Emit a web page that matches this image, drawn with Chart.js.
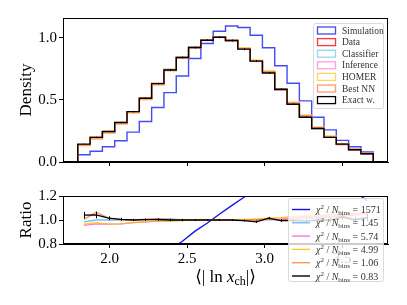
<!DOCTYPE html>
<html>
<head>
<meta charset="utf-8">
<script src="https://cdn.jsdelivr.net/npm/chart.js@4.4.0/dist/chart.umd.min.js"></script>
<style>
  body { margin: 0; background: #fff; }
  #wrap { position: relative; width: 407px; height: 305px; }
  #wrap canvas { position: absolute; left: 0; top: 0; }
</style>
</head>
<body>
<div id="wrap">
  <canvas id="hist" width="407" height="305"></canvas>
  <canvas id="ratio" width="407" height="305"></canvas>
</div>
<script>
// binning of the histograms
var binLo = 1.795, binHi = 3.70, nBins = 24;
var xTicks = [2.0, 2.5, 3.0, 3.5];
var densityTicks = [0.0, 0.5, 1.0];
var ratioTicks = [0.8, 1.0, 1.2];

// densities per bin (top panel)
var simulation = [0.059, 0.086, 0.123, 0.171, 0.241, 0.326, 0.439, 0.559, 0.693, 0.834, 0.955, 1.053,
                  1.096, 1.083, 1.021, 0.920, 0.775, 0.634, 0.492, 0.361, 0.259, 0.174, 0.123, 0.080];
var dataHist   = [0.138, 0.190, 0.242, 0.316, 0.406, 0.512, 0.628, 0.741, 0.842, 0.922, 0.981, 1.005,
                  0.979, 0.914, 0.815, 0.724, 0.579, 0.467, 0.363, 0.270, 0.198, 0.140, 0.099, 0.066];
var classifier = [0.136, 0.190, 0.242, 0.316, 0.406, 0.514, 0.631, 0.748, 0.842, 0.922, 0.981, 1.005,
                  0.977, 0.909, 0.815, 0.728, 0.579, 0.469, 0.367, 0.275, 0.202, 0.144, 0.100, 0.067];
var inference  = [0.132, 0.184, 0.234, 0.306, 0.397, 0.504, 0.622, 0.737, 0.840, 0.922, 0.981, 1.005,
                  0.979, 0.914, 0.817, 0.728, 0.579, 0.472, 0.370, 0.275, 0.204, 0.144, 0.103, 0.069];
var homer      = [0.133, 0.186, 0.234, 0.306, 0.397, 0.504, 0.622, 0.734, 0.838, 0.922, 0.981, 1.005,
                  0.979, 0.919, 0.823, 0.735, 0.591, 0.481, 0.376, 0.281, 0.207, 0.147, 0.104, 0.070];
var bestNN     = [0.139, 0.202, 0.246, 0.318, 0.406, 0.516, 0.634, 0.745, 0.842, 0.922, 0.981, 1.005,
                  0.979, 0.912, 0.815, 0.728, 0.585, 0.476, 0.374, 0.278, 0.206, 0.146, 0.104, 0.070];
var exactW     = [0.144, 0.198, 0.246, 0.318, 0.406, 0.513, 0.631, 0.741, 0.842, 0.922, 0.981, 1.005,
                  0.979, 0.909, 0.813, 0.717, 0.586, 0.465, 0.361, 0.270, 0.198, 0.144, 0.099, 0.067];
var exactErr   = [0.004, 0.005, 0.005, 0.006, 0.006, 0.007, 0.007, 0.008, 0.008, 0.008, 0.008, 0.008,
                  0.008, 0.008, 0.008, 0.007, 0.007, 0.006, 0.006, 0.005, 0.005, 0.004, 0.004, 0.003];

// ratios to data per bin (bottom panel)
var ratioSim   = [0.410, 0.434, 0.500, 0.538, 0.594, 0.635, 0.696, 0.754, 0.823, 0.905, 0.973, 1.048,
                  1.120, 1.190, 1.256, 1.283, 1.320, 1.360, 1.360, 1.340, 1.310, 1.210, 1.240, 1.160];
var ratioCls   = [0.985, 1.000, 1.000, 1.000, 1.000, 1.003, 1.005, 1.010, 1.000, 1.000, 1.000, 1.000,
                  0.998, 0.995, 1.000, 1.005, 1.000, 1.005, 1.010, 1.020, 1.020, 1.030, 1.010, 1.020];
var ratioInf   = [0.955, 0.968, 0.965, 0.968, 0.978, 0.985, 0.990, 0.995, 0.998, 1.000, 1.000, 1.000,
                  1.000, 1.000, 1.002, 1.005, 1.000, 1.010, 1.020, 1.020, 1.030, 1.030, 1.040, 1.050];
var ratioHomer = [0.965, 0.978, 0.965, 0.967, 0.978, 0.985, 0.990, 0.990, 0.995, 1.000, 1.000, 1.000,
                  1.000, 1.005, 1.010, 1.015, 1.020, 1.030, 1.035, 1.040, 1.045, 1.050, 1.055, 1.060];
var ratioNN    = [1.005, 1.065, 1.015, 1.005, 1.000, 1.008, 1.010, 1.005, 1.000, 1.000, 1.000, 1.000,
                  1.000, 0.998, 1.000, 1.005, 1.010, 1.020, 1.030, 1.030, 1.040, 1.040, 1.050, 1.060];
var ratioExact = [1.040, 1.042, 1.015, 1.006, 1.000, 1.003, 1.004, 1.000, 1.000, 1.000, 1.000, 1.000,
                  1.000, 0.995, 0.985, 1.015, 0.995, 0.995, 0.990, 1.000, 0.998, 1.025, 1.000, 1.020];
var ratioExactErr = [0.028, 0.028, 0.016, 0.012, 0.010, 0.010, 0.010, 0.010, 0.010, 0.008, 0.008, 0.008,
                     0.008, 0.008, 0.010, 0.010, 0.012, 0.012, 0.014, 0.016, 0.018, 0.022, 0.026, 0.030];

var histLabels = ['Simulation', 'Data', 'Classifier', 'Inference', 'HOMER', 'Best NN', 'Exact w.'];
var chi2Values = ['1571', '1.45', '5.74', '4.99', '1.06', '0.83'];

var serif = "'Liberation Serif', 'DejaVu Serif', serif";
Chart.defaults.font.family = serif;
Chart.defaults.color = '#000';
Chart.defaults.animation = false;

var edges = [], centers = [];
for (var i = 0; i <= nBins; i++) edges.push(binLo + i * (binHi - binLo) / nBins);
for (var i = 0; i < nBins; i++) centers.push((edges[i] + edges[i + 1]) / 2);
var xMin = binLo - 0.05 * (binHi - binLo), xMax = binHi + 0.05 * (binHi - binLo);

function stepPoints(vals) {
    var pts = [{x: edges[0], y: 0}];
    for (var i = 0; i < vals.length; i++) pts.push({x: edges[i], y: vals[i]});
    pts.push({x: edges[nBins], y: vals[nBins - 1]});
    pts.push({x: edges[nBins], y: 0});
    return pts;
}

function centerPoints(vals) {
    return vals.map(function (v, i) { return {x: centers[i], y: v}; });
}

function axisX(showLabels) {
    return {
        type: 'linear', min: xMin, max: xMax,
        afterBuildTicks: function (s) { s.ticks = xTicks.map(function (v) { return {value: v}; }); },
        afterFit: function (s) { s.height = showLabels ? 40 : 8; },
        grid: {drawOnChartArea: false, drawTicks: true, tickLength: 4, tickColor: '#000', tickWidth: 1},
        border: {display: true, color: '#000', width: 1},
        ticks: {display: showLabels, font: {size: 15}, color: '#000', padding: 2, maxRotation: 0,
                callback: function (v) { return v.toFixed(1); }}
    };
}

function axisY(min, max, ticks, title) {
    return {
        type: 'linear', min: min, max: max,
        afterBuildTicks: function (s) { s.ticks = ticks.map(function (v) { return {value: v}; }); },
        afterFit: function (s) { s.width = 63; },
        grid: {drawOnChartArea: false, drawTicks: true, tickLength: 4, tickColor: '#000', tickWidth: 1},
        border: {display: true, color: '#000', width: 1},
        ticks: {font: {size: 15}, color: '#000', padding: 2, callback: function (v) { return v.toFixed(1); }},
        title: {display: true, text: title, font: {size: 17}, color: '#000', padding: {top: 16, bottom: 0}}
    };
}

// draws text pieces with italics / sub- and superscripts
function drawPieces(ctx, pieces, x, y, size, align) {
    var widths = pieces.map(function (p) {
        ctx.font = (p.it ? 'italic ' : '') + (size * (p.scale || 1)) + 'px ' + serif;
        return ctx.measureText(p.t).width;
    });
    var total = widths.reduce(function (a, b) { return a + b; }, 0);
    var cx = align === 'center' ? x - total / 2 : x;
    ctx.textBaseline = 'alphabetic';
    ctx.textAlign = 'left';
    pieces.forEach(function (p, k) {
        ctx.font = (p.it ? 'italic ' : '') + (size * (p.scale || 1)) + 'px ' + serif;
        ctx.fillText(p.t, cx, y + (p.dy || 0));
        cx += widths[k];
    });
}

var framePlugin = {
    id: 'frame',
    afterDatasetsDraw: function (chart) {
        var a = chart.chartArea, ctx = chart.ctx;
        ctx.save();
        ctx.strokeStyle = '#000';
        ctx.lineWidth = 1;
        ctx.strokeRect(Math.round(a.left) + 0.5, Math.round(a.top) + 0.5,
                       Math.round(a.right - a.left) - 1, Math.round(a.bottom - a.top) - 1);
        ctx.restore();
    }
};

function errorPlugin(dsIndex, errs) {
    return {
        id: 'errors' + dsIndex,
        afterDatasetsDraw: function (chart) {
            var ctx = chart.ctx, xs = chart.scales.x, ys = chart.scales.y, a = chart.chartArea;
            var vals = chart.data.datasets[dsIndex].errVals;
            ctx.save();
            ctx.beginPath();
            ctx.rect(a.left, a.top, a.right - a.left, a.bottom - a.top);
            ctx.clip();
            ctx.strokeStyle = '#000';
            ctx.lineWidth = 1;
            for (var i = 0; i < vals.length; i++) {
                var px = Math.round(xs.getPixelForValue(centers[i])) + 0.5;
                var p1 = ys.getPixelForValue(vals[i] - errs[i]), p2 = ys.getPixelForValue(vals[i] + errs[i]);
                ctx.beginPath();
                ctx.moveTo(px, p1); ctx.lineTo(px, p2);
                ctx.stroke();
            }
            ctx.restore();
        }
    };
}

var histColors = ['rgba(20,30,240,0.8)', 'rgba(255,20,20,0.85)', 'rgba(110,200,245,0.75)',
                  'rgba(255,120,220,0.7)', 'rgba(255,200,40,0.75)', 'rgba(255,130,80,0.8)', '#000'];
var histSeries = [simulation, dataHist, classifier, inference, homer, bestNN, exactW];

var histLegend = {
    id: 'histLegend',
    afterDraw: function (chart) {
        var ctx = chart.ctx, a = chart.chartArea;
        var bx = a.right - 75, by = a.top + 5, bw = 70, bh = 85;
        ctx.save();
        ctx.fillStyle = 'rgba(255,255,255,0.8)';
        ctx.strokeStyle = 'rgba(215,215,215,0.9)';
        ctx.lineWidth = 1;
        ctx.beginPath();
        ctx.roundRect(bx + 0.5, by + 0.5, bw, bh, 2);
        ctx.fill(); ctx.stroke();
        histLabels.forEach(function (lab, k) {
            var cy = by + 7 + k * 11.6;
            ctx.strokeStyle = histColors[k];
            ctx.lineWidth = 1.3;
            ctx.strokeRect(bx + 4.5, cy - 3, 18, 7);
            ctx.fillStyle = '#333';
            drawPieces(ctx, [{t: lab}], bx + 29, cy + 3.5, 9.5, 'left');
        });
        ctx.restore();
    }
};

new Chart(document.getElementById('hist'), {
    type: 'line',
    data: {
        datasets: histSeries.map(function (vals, k) {
            return {
                label: histLabels[k],
                data: stepPoints(vals),
                errVals: vals,
                borderColor: histColors[k],
                borderWidth: 1.4,
                stepped: true,
                pointRadius: 0,
                fill: false,
                order: histSeries.length - 1 - k
            };
        })
    },
    options: {
        responsive: false,
        devicePixelRatio: 1,
        layout: {padding: {top: 18, right: 19, bottom: 135, left: 0}},
        plugins: {legend: {display: false}, tooltip: {enabled: false}},
        scales: {x: axisX(false), y: axisY(0, 1.16, densityTicks, 'Density')}
    },
    plugins: [framePlugin, errorPlugin(6, exactErr), histLegend]
});

var ratioColors = ['#1010ee', 'rgba(80,175,240,0.8)', 'rgba(255,80,215,0.8)', 'rgba(255,190,10,0.85)',
                   'rgba(255,130,70,0.85)', '#000'];
var ratioSeries = [ratioSim, ratioCls, ratioInf, ratioHomer, ratioNN, ratioExact];

var ratioLegend = {
    id: 'ratioLegend',
    afterDraw: function (chart) {
        var ctx = chart.ctx, a = chart.chartArea;
        var bx = 288, by = a.top + 2, bw = 95, bh = 83;
        ctx.save();
        ctx.fillStyle = 'rgba(255,255,255,0.8)';
        ctx.strokeStyle = 'rgba(215,215,215,0.9)';
        ctx.lineWidth = 1;
        ctx.beginPath();
        ctx.roundRect(bx + 0.5, by + 0.5, bw, bh, 2);
        ctx.fill(); ctx.stroke();
        chi2Values.forEach(function (val, k) {
            var cy = by + 11.5 + k * 13.3;
            ctx.strokeStyle = ratioColors[k];
            ctx.lineWidth = 1.4;
            ctx.beginPath();
            ctx.moveTo(bx + 4, cy); ctx.lineTo(bx + 22, cy);
            ctx.stroke();
            ctx.fillStyle = '#333';
            drawPieces(ctx, [
                {t: 'χ', it: true}, {t: '2', scale: 0.7, dy: -4}, {t: ' / '},
                {t: 'N', it: true}, {t: 'bins', scale: 0.7, dy: 2}, {t: ' = ' + val}
            ], bx + 28, cy + 3.5, 10, 'left');
        });
        ctx.restore();
    }
};

var xLabelPlugin = {
    id: 'xLabel',
    afterDraw: function (chart) {
        var ctx = chart.ctx, a = chart.chartArea;
        ctx.save();
        ctx.fillStyle = '#000';
        drawPieces(ctx, [
            {t: '\u27E8| ln '}, {t: 'x', it: true}, {t: 'ch', scale: 0.7, dy: 3}, {t: '|\u27E9'}
        ], (a.left + a.right) / 2, 282, 17, 'center');
        ctx.restore();
    }
};

new Chart(document.getElementById('ratio'), {
    type: 'line',
    data: {
        datasets: ratioSeries.map(function (vals, k) {
            return {
                label: histLabels[k === 0 ? 0 : k + 1],
                data: centerPoints(vals),
                errVals: vals,
                borderColor: ratioColors[k],
                borderWidth: 1.3,
                pointRadius: 0,
                fill: false,
                order: ratioSeries.length - 1 - k
            };
        })
    },
    options: {
        responsive: false,
        devicePixelRatio: 1,
        layout: {padding: {top: 196, right: 19, bottom: 21, left: 0}},
        plugins: {legend: {display: false}, tooltip: {enabled: false}},
        scales: {x: axisX(true), y: axisY(0.8, 1.2, ratioTicks, 'Ratio')}
    },
    plugins: [framePlugin, errorPlugin(5, ratioExactErr), xLabelPlugin, ratioLegend]
});
</script>
</body>
</html>
